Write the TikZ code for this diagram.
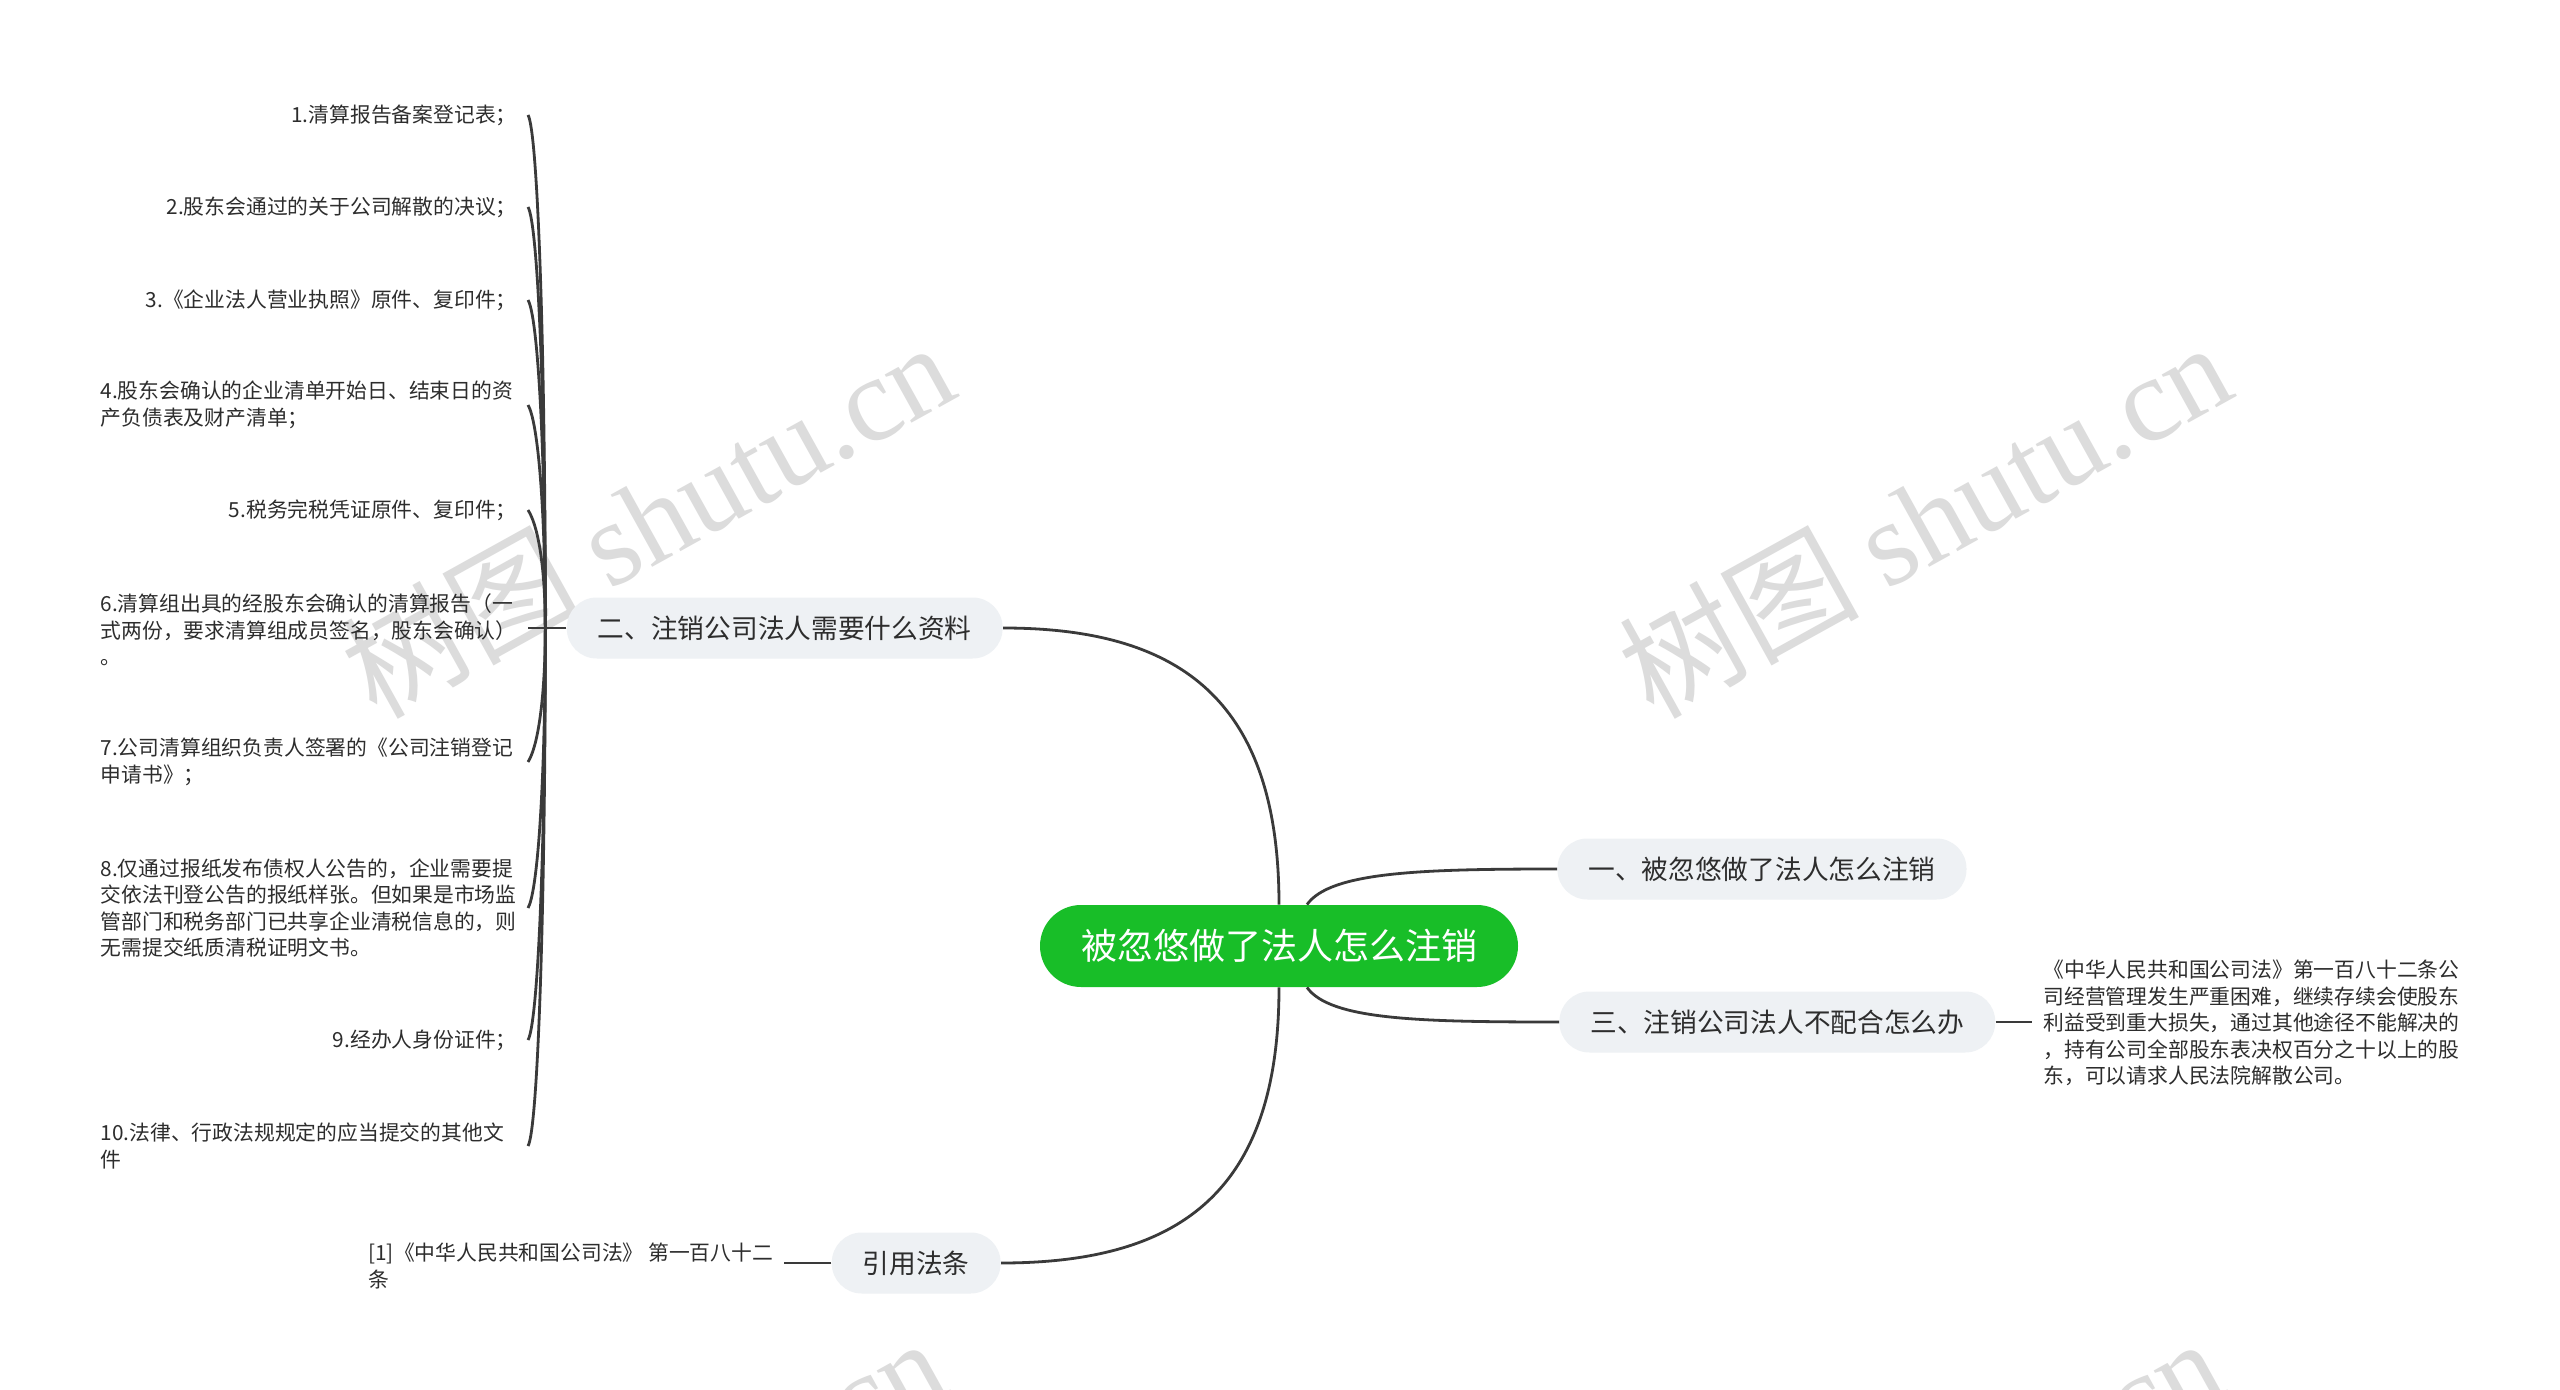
\documentclass[tikz,border=0pt]{standalone}
\usepackage{fontspec}
\setmainfont{Noto Sans CJK SC}
\newfontfamily\wmcjk{Noto Sans CJK SC}
\newfontfamily\wmlat{Liberation Serif}
\definecolor{lc}{RGB}{58,58,58}
\definecolor{txt}{RGB}{45,45,45}
\definecolor{subfill}{RGB}{238,241,244}
\definecolor{rootfill}{RGB}{24,190,40}
\definecolor{wmc}{RGB}{220,220,220}
\tikzset{
  conn/.style={draw=lc, line width=1.4pt},
  subbox/.style={fill=subfill, rounded corners=15pt, minimum height=30.5pt, inner xsep=15.5pt, inner ysep=0pt, font=\fontsize{13.35pt}{16pt}\selectfont, text=txt},
  rootbox/.style={fill=rootfill, rounded corners=20.5pt, minimum height=41pt, inner xsep=20.5pt, inner ysep=0pt, font=\fontsize{18pt}{22pt}\selectfont, text=white},
  leafbox/.style={inner xsep=5.5pt, inner ysep=0pt, align=left, font=\fontsize{10.4pt}{13.3pt}\selectfont, text=txt},
  wideleaf/.style={leafbox, text width=208pt},
  wmark/.style={text=wmc, font=\fontsize{60pt}{60pt}\selectfont, inner sep=0pt, rotate=29}
}
\begin{document}
\begin{tikzpicture}[x=0.5pt,y=-0.5pt]
\clip (0,0) rectangle (2560,1390);
\fill[white] (0,0) rectangle (2560,1390);

% watermarks
\node[wmark] (w1) at (647,518) {{\wmcjk 树图} {\wmlat shutu.cn}};
\node[wmark] (w2) at (1924,518) {{\wmcjk 树图} {\wmlat shutu.cn}};
\node[wmark] (w3) at (639,1514) {{\wmcjk 树图} {\wmlat shutu.cn}};
\node[wmark] (w4) at (1916,1514) {{\wmcjk 树图} {\wmlat shutu.cn}};

% main nodes
\node[rootbox] (c) at (1279,946) {被忽悠做了法人怎么注销};
\node[subbox, anchor=west] (n1) at (1557,869) {一、被忽悠做了法人怎么注销};
\node[subbox, anchor=east] (n2) at (1003,628) {二、注销公司法人需要什么资料};
\node[subbox, anchor=west] (n3) at (1559,1022) {三、注销公司法人不配合怎么办};
\node[subbox, anchor=east] (n4) at (1001,1263) {引用法条};

% leaves of n2
\node[leafbox, anchor=east] (l1) at (528,115) {1.清算报告备案登记表；};
\node[leafbox, anchor=east] (l2) at (528,207) {2.股东会通过的关于公司解散的决议；};
\node[leafbox, anchor=east] (l3) at (528,300) {3.《企业法人营业执照》原件、复印件；};
\node[wideleaf, anchor=east] (l4) at (528,405) {4.股东会确认的企业清单开始日、结束日的资\\产负债表及财产清单；};
\node[leafbox, anchor=east] (l5) at (528,510) {5.税务完税凭证原件、复印件；};
\node[wideleaf, anchor=east] (l6) at (528,630) {6.清算组出具的经股东会确认的清算报告（一\\式两份，要求清算组成员签名，股东会确认）\\。};
\node[wideleaf, anchor=east] (l7) at (528,762) {7.公司清算组织负责人签署的《公司注销登记\\申请书》；};
\node[wideleaf, anchor=east] (l8) at (528,908) {8.仅通过报纸发布债权人公告的，企业需要提\\交依法刊登公告的报纸样张。但如果是市场监\\管部门和税务部门已共享企业清税信息的，则\\无需提交纸质清税证明文书。};
\node[leafbox, anchor=east] (l9) at (528,1040) {9.经办人身份证件；};
\node[wideleaf, anchor=east] (l10) at (528,1146) {10.法律、行政法规规定的应当提交的其他文\\件};

% leaf of n3
\node[leafbox, anchor=west] (r1) at (2032,1023) {《中华人民共和国公司法》第一百八十二条公\\司经营管理发生严重困难，继续存续会使股东\\利益受到重大损失，通过其他途径不能解决的\\，持有公司全部股东表决权百分之十以上的股\\东，可以请求人民法院解散公司。};

% leaf of n4
\node[leafbox, anchor=west] (b1) at (357,1266) {[1]《中华人民共和国公司法》 第一百八十二\\条};

% main connectors
\draw[conn] (c.north) .. controls (1279,700) and (1180,628) .. (n2.east);
\draw[conn] (c.south) .. controls (1279,1192) and (1180,1263) .. (n4.east);
\draw[conn] ([xshift=14pt]c.north) .. controls (1330,872) and (1420,869) .. (n1.west);
\draw[conn] ([xshift=14pt]c.south) .. controls (1330,1020) and (1420,1022) .. (n3.west);

% leaf connectors
\coordinate (sp) at ([xshift=-10.5pt]n2.west);
\draw[conn] (n2.west) -- (n2.west -| l6.east);
\draw[conn] (sp) .. controls (545,320) and (537,130) .. (l1.east);
\draw[conn] (sp) .. controls (545,375) and (537,222) .. (l2.east);
\draw[conn] (sp) .. controls (545,430) and (537,315) .. (l3.east);
\draw[conn] (sp) .. controls (545,495) and (537,420) .. (l4.east);
\draw[conn] (sp) .. controls (545,560) and (537,524) .. (l5.east);
\draw[conn] (sp) .. controls (545,705) and (537,748) .. (l7.east);
\draw[conn] (sp) .. controls (545,795) and (537,893) .. (l8.east);
\draw[conn] (sp) .. controls (545,875) and (537,1025) .. (l9.east);
\draw[conn] (sp) .. controls (545,940) and (537,1131) .. (l10.east);

\draw[conn] (n3.east) -- (n3.east -| r1.west);
\draw[conn] (n4.west) -- (n4.west -| b1.east);
\end{tikzpicture}
\end{document}
